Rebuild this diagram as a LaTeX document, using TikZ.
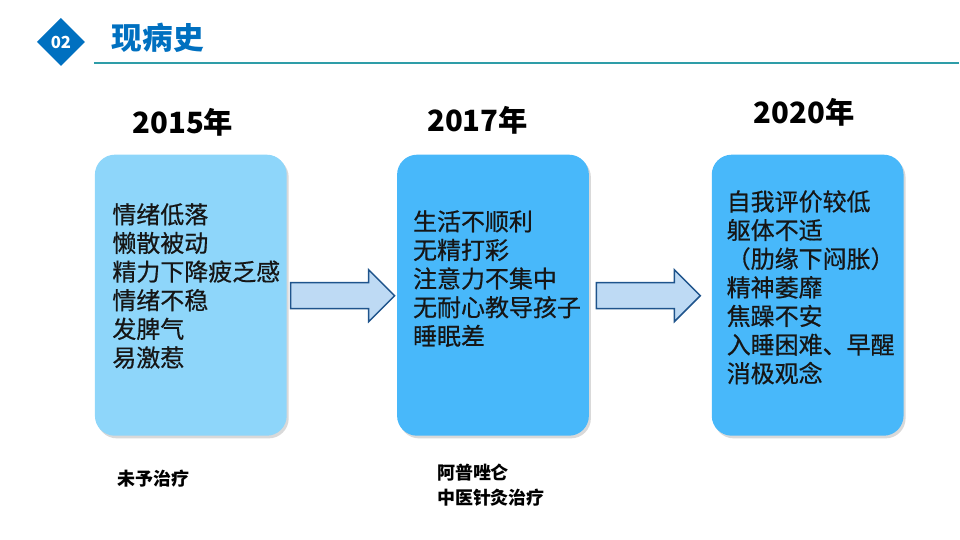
\documentclass[tikz,border=0pt]{standalone}
\usepackage{fontspec}
\setmainfont{Noto Sans CJK SC}
\usetikzlibrary{shadows}

\tikzset{every picture/.style={line width=0.75pt}}
\tikzset{
  card/.style={rounded corners=15pt, minimum width=144pt, minimum height=211pt, inner sep=0pt,
    drop shadow={shadow xshift=1.5pt, shadow yshift=-2pt, opacity=0.25, fill=black!60}},
  cardtext/.style={anchor=north west, inner sep=0pt, align=left, text={rgb,255:red,22;green,22;blue,22},
    font=\fontsize{18}{21.5}\selectfont\addfontfeature{FakeBold=0.6}},
  yearlabel/.style={inner sep=0pt, font=\bfseries\fontsize{22}{26}\selectfont},
  notetext/.style={anchor=north west, inner sep=0pt, align=left, font=\bfseries\fontsize{13.5}{19}\selectfont},
  blockarrow/.style={fill={rgb,255:red,190;green,218;blue,244}, draw={rgb,255:red,31;green,84;blue,140}, line width=1.1pt, line join=miter}
}

\begin{document}
\begin{tikzpicture}[x=0.75pt,y=0.75pt,yscale=-1,xscale=1]
        \path (0,0) rectangle (960,540); %set diagram size to 960x540

        %Shape: Diamond [id:badge]
        \draw [fill={rgb, 255:red, 0; green, 112; blue, 192 }, draw=none] (61,18) -- (85,42) -- (61,66) -- (37,42) -- cycle ;
        % Text Node
        \node (badge) at (61,42) [inner sep=0pt, text=white, font=\bfseries\fontsize{12.5}{14}\selectfont] {02};
        % Text Node
        \node (title) at (158,38) [inner sep=0pt, text={rgb, 255:red, 0; green, 112; blue, 192 }, font=\bfseries\fontsize{23}{28}\selectfont] {现病史};
        %Straight Lines [id:underline]
        \draw [color={rgb, 255:red, 46; green, 157; blue, 168 }, line width=1.5pt] (94,63) -- (960,63) ;

        % Text Node
        \node (y2015) at (183,122) [yearlabel] {2015年};
        % Text Node
        \node (y2017) at (478,120) [yearlabel] {2017年};
        % Text Node
        \node (y2020) at (805,112) [yearlabel] {2020年};

        %Shape: Rounded Rect [id:card1]
        \node (card1) at (191,295.5) [card, fill={rgb, 255:red, 142; green, 214; blue, 250 }] {};
        %Shape: Rounded Rect [id:card2]
        \node (card2) at (493.5,295.5) [card, fill={rgb, 255:red, 72; green, 184; blue, 250 }] {};
        %Shape: Rounded Rect [id:card3]
        \node (card3) at (808.5,295.5) [card, fill={rgb, 255:red, 72; green, 184; blue, 250 }] {};

        %Shape: Right Arrow [id:arrow1]
        \draw [blockarrow] (291,283) -- (369,283) -- (369,270) -- (395,296) -- (369,322) -- (369,309) -- (291,309) -- cycle ;
        %Shape: Right Arrow [id:arrow2]
        \draw [blockarrow] (597,283) -- (675,283) -- (675,270) -- (701,296) -- (675,322) -- (675,309) -- (597,309) -- cycle ;

        % Text Node
        \node (list1) at (112,203) [cardtext] {情绪低落\\懒散被动\\精力下降疲乏感\\情绪不稳\\发脾气\\易激惹};
        % Text Node
        \node (list2) at (413,210) [cardtext] {生活不顺利\\无精打彩\\注意力不集中\\无耐心教导孩子\\睡眠差};
        % Text Node
        \node (list3) at (727,190) [cardtext] {自我评价较低\\躯体不适\\（肋缘下闷胀）\\精神萎靡\\焦躁不安\\入睡困难、早醒\\消极观念};

        % Text Node
        \node (note1) at (117,470) [notetext] {未予治疗};
        % Text Node
        \node (note2) at (437,464) [notetext] {阿普唑仑\\中医针灸治疗};

\end{tikzpicture}
\end{document}
